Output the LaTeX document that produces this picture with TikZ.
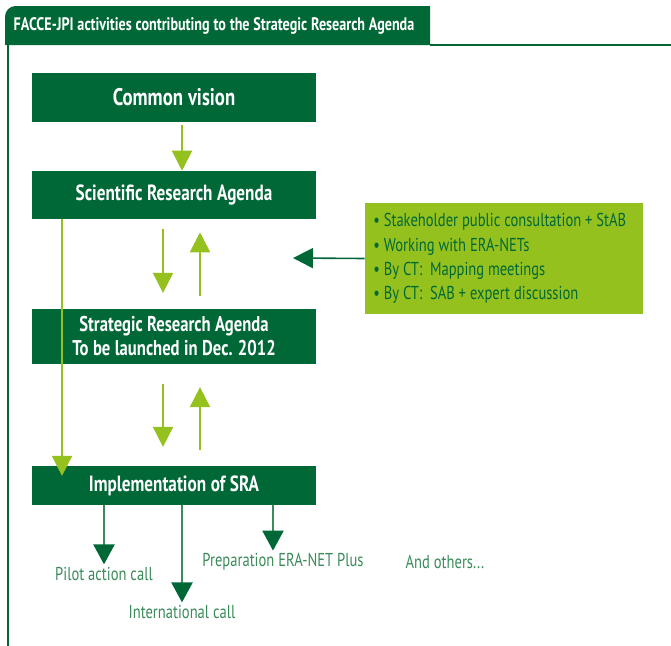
\documentclass[tikz,border=0pt]{standalone}
\usepackage{fontspec}
\setmainfont[FakeStretch=0.78]{PT Sans}
\usepackage{tikz}
\usetikzlibrary{arrows.meta}
\usetikzlibrary{calc}
\definecolor{faccedark}{RGB}{0,104,55}
\definecolor{faccelight}{RGB}{149,193,31}
\definecolor{faccemid}{RGB}{58,138,90}
\newcommand{\tightspace}{\spaceskip=0.21em plus 0.08em minus 0.04em\xspaceskip=0.25em\relax}

\begin{document}
\begin{tikzpicture}[x=0.75pt,y=-0.75pt]
    \useasboundingbox (0,0) rectangle (671,646);
    %% title tab and frame
    \fill [faccedark] (5,45) [rounded corners=8pt] -- (5,6) [sharp corners] -- (430,6) -- (430,45) -- cycle;
    \node (title) at (9,26) [anchor=west, text=white, font=\bfseries\fontsize{13.6}{16}\selectfont\tightspace] {FACCE-JPI activities contributing to the Strategic Research Agenda};
    \draw [faccedark, line width=1.5pt] (430,45) -- (671,45);
    \draw [faccedark, line width=1.5pt] (7.5,45) -- (7.5,646);
    %% stages
    \tikzstyle {stage} = [shape=rectangle, fill=faccedark, text=white, minimum width=213pt, align=center];
    \tikzstyle {uparrow} = [faccelight, line width=1.3pt, -{Triangle[width=15pt,length=15pt]}];
    \node (vision) [stage, minimum height=36.75pt, font=\bfseries\fontsize{18}{20}\selectfont\tightspace] at (174,97.5) {Common vision};
    \node (sci) [stage, minimum height=36pt, font=\bfseries\fontsize{16.5}{19}\selectfont\tightspace] at (174,195) {Scientific Research Agenda};
    \node (sra) [stage, minimum height=41pt, font=\bfseries\fontsize{16}{18}\selectfont\tightspace] at (174,336.5) {Strategic Research Agenda\\To be launched in Dec. 2012};
    \node (impl) [stage, minimum height=29pt, font=\bfseries\fontsize{16.5}{19}\selectfont\tightspace] at (174,485.5) {Implementation of SRA};
    \draw [uparrow] ($(vision.south)+(8,3)$) -- ($(sci.north)+(8,0)$);
    \draw [uparrow] ($(sci.south)+(-11,10)$) -- ($(sra.north)+(-11,-16)$);
    \draw [uparrow] ($(sra.north)+(26,-13)$) -- ($(sci.south)+(26,13)$);
    \draw [uparrow] ($(sra.south)+(-11,20)$) -- ($(impl.north)+(-11,-19)$);
    \draw [uparrow] ($(impl.north)+(26,-16)$) -- ($(sra.south)+(26,23)$);
    \draw [uparrow, shorten >=-7.5pt] ($(sci.south)+(-112,0)$) -- ($(impl.north)+(-112,0)$);
    %% inputs to the agenda
    \node (inputs) at (504,258.5) [shape=rectangle, fill=faccelight, text=faccedark, minimum width=208.5pt, minimum height=83pt, inner xsep=6pt, text width=196pt, align=left, font=\fontsize{14}{18.3}\selectfont] {\tightspace\textbullet\ Stakeholder public consultation + StAB\\\textbullet\ Working with ERA-NETs\\\textbullet\ By CT:\ \ Mapping meetings\\\textbullet\ By CT:\ \ SAB + expert discussion};
    \coordinate (inputtip) at (293,258);
    \draw [faccedark, line width=1.2pt, -{Triangle[width=15pt,length=15pt]}] (inputs.west) -- (inputtip);
    %% calls
    \tikzstyle {call} = [text=faccemid, inner sep=2pt, font=\fontsize{14}{16}\selectfont\tightspace];
    \tikzstyle {downarrow} = [faccemid, line width=1pt, -{Triangle[width=16pt,length=15pt,fill=faccedark,color=faccedark]}];
    \node (pilot) [call] at (104,574) {Pilot action call};
    \node (intl) [call] at (182,612) {International call};
    \node (prep) [call] at (283,562) {Preparation ERA-NET Plus};
    \node (others) [call] at (445,562) {And others...};
    \coordinate (prepout) at ($(impl.south)+(99,0)$);
    \draw [downarrow] (impl.south -| pilot.north) -- (pilot.north);
    \draw [downarrow] (impl.south -| intl.north) -- (intl.north);
    \draw [downarrow] (prepout) -- (prepout |- prep.north);
\end{tikzpicture}
\end{document}
